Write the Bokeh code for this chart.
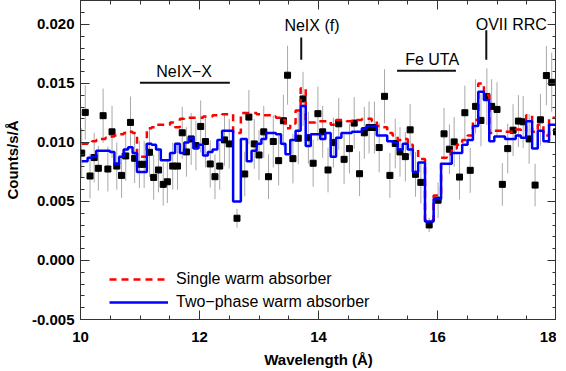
from bokeh.plotting import figure
from bokeh.models import (Range1d, FixedTicker, LinearAxis, PrintfTickFormatter,
                          Legend, LegendItem, ColumnDataSource)
from bokeh.core.properties import value
from bokeh.embed import file_html
from bokeh.resources import INLINE

# ---------------- data ----------------
WAVE = [10.02, 10.08, 10.16, 10.23, 10.30, 10.38, 10.46, 10.53, 10.61, 10.69,
        10.76, 10.84, 10.91, 10.99, 11.07, 11.16, 11.23, 11.31, 11.39, 11.46,
        11.55, 11.63, 11.71, 11.78, 11.86, 11.94, 12.02, 12.10, 12.18, 12.26,
        12.34, 12.42, 12.50, 12.63, 12.76, 12.83, 12.92, 13.00, 13.08, 13.16,
        13.24, 13.33, 13.41, 13.48, 13.57, 13.66, 13.74, 13.83, 13.91, 13.99,
        14.07, 14.16, 14.25, 14.34, 14.43, 14.52, 14.60, 14.69, 14.77, 14.85,
        14.94, 15.02, 15.11, 15.20, 15.29, 15.37, 15.46, 15.54, 15.63, 15.72,
        15.86, 16.01, 16.11, 16.20, 16.28, 16.37, 16.46, 16.55, 16.64, 16.73,
        16.83, 16.91, 17.00, 17.09, 17.18, 17.27, 17.36, 17.44, 17.54, 17.64,
        17.73, 17.83, 17.92, 18.00]

COUNTS = [0.0091, 0.01255, 0.00716, 0.00872, 0.00781, 0.01227, 0.00775, 0.0109, 0.0080, 0.00721,
          0.00886, 0.0117, 0.00866, 0.00815, 0.00815, 0.00917, 0.00704, 0.00767, 0.00645, 0.00667,
          0.0080, 0.0080, 0.01082, 0.0092, 0.0103, 0.00974, 0.01136, 0.01008, 0.00818, 0.0071,
          0.0080, 0.01022, 0.00988, 0.00358, 0.00733, 0.01215, 0.00988, 0.00894, 0.0109, 0.0071,
          0.01008, 0.00846, 0.01184, 0.0157, 0.00863, 0.01036, 0.01369, 0.0104, 0.00824, 0.01244,
          0.0109, 0.00767, 0.00999, 0.01158, 0.00857, 0.00948, 0.01164, 0.00735, 0.01082, 0.01127,
          0.01127, 0.00957, 0.01391, 0.00721, 0.00991, 0.0092, 0.0088, 0.01107, 0.0073, 0.00662,
          0.00301, 0.00511, 0.01073, 0.00943, 0.01005, 0.00707, 0.01252, 0.00764, 0.01306, 0.01187,
          0.01388, 0.01306, 0.0128, 0.00645, 0.00948, 0.01104, 0.01181, 0.01175, 0.0103, 0.00639,
          0.01192, 0.01567, 0.0151, 0.0109]

ERR = [0.0021, 0.0023, 0.0019, 0.0021, 0.0019, 0.0023, 0.0019, 0.0022, 0.0020, 0.0019,
       0.0021, 0.0022, 0.0021, 0.0020, 0.0020, 0.0021, 0.0019, 0.0019, 0.0018, 0.0018,
       0.0020, 0.0020, 0.0022, 0.0021, 0.0022, 0.0021, 0.0022, 0.0022, 0.0020, 0.0019,
       0.0020, 0.0022, 0.0021, 0.0008, 0.0019, 0.0023, 0.0021, 0.0021, 0.0022, 0.0019,
       0.0022, 0.0021, 0.0022, 0.0025, 0.0021, 0.0022, 0.0023, 0.0022, 0.0020, 0.0023,
       0.0022, 0.0019, 0.0021, 0.0022, 0.0021, 0.0021, 0.0022, 0.0019, 0.0022, 0.0022,
       0.0022, 0.0021, 0.0023, 0.0019, 0.0021, 0.0021, 0.0021, 0.0022, 0.0019, 0.0018,
       0.0006, 0.0015, 0.0022, 0.0021, 0.0021, 0.0019, 0.0023, 0.0019, 0.0023, 0.0022,
       0.0024, 0.0023, 0.0023, 0.0018, 0.0021, 0.0022, 0.0022, 0.0022, 0.0021, 0.0018,
       0.0022, 0.0025, 0.0025, 0.0022]
XERR = 0.04

TWO_PHASE = [0.0084, 0.0084, 0.0087, 0.0088, 0.0093, 0.0093, 0.0093, 0.0092, 0.0082, 0.0088,
             0.0094, 0.0096, 0.0091, 0.0075, 0.0075, 0.0099, 0.0098, 0.0094, 0.0085, 0.0085,
             0.0091, 0.0099, 0.0091, 0.0100, 0.0104, 0.0095, 0.0098, 0.0089, 0.0092, 0.0094,
             0.0102, 0.0110, 0.0110, 0.0050, 0.0103, 0.0084, 0.0093, 0.0099, 0.0103, 0.0108,
             0.0108, 0.0107, 0.0099, 0.0090, 0.0102, 0.0110, 0.0131, 0.0097, 0.0107, 0.0107,
             0.0103, 0.0108, 0.0088, 0.0104, 0.0108, 0.0108, 0.0109, 0.0109, 0.0112, 0.0114,
             0.0114, 0.0106, 0.0106, 0.0101, 0.0100, 0.0094, 0.0099, 0.0094, 0.0075, 0.0083,
             0.0033, 0.0052, 0.0082, 0.0082, 0.0091, 0.0091, 0.0098, 0.0102, 0.0114, 0.0143,
             0.0136, 0.0101, 0.0105, 0.0105, 0.0103, 0.0103, 0.0106, 0.0104, 0.0118, 0.0095,
             0.0110, 0.0101, 0.0115, 0.0115]

SINGLE = [0.0099, 0.0099, 0.0100, 0.0101, 0.0102, 0.0103, 0.0104, 0.0105, 0.0106, 0.0107,
          0.0108, 0.0109, 0.0108, 0.0088, 0.0088, 0.0112, 0.0113, 0.0115, 0.0115, 0.0115,
          0.0117, 0.0113, 0.0120, 0.0121, 0.0121, 0.0121, 0.0121, 0.0122, 0.0122, 0.0123,
          0.0123, 0.0124, 0.0124, 0.0108, 0.0125, 0.0125, 0.0125, 0.0124, 0.0123, 0.0123,
          0.0122, 0.0121, 0.0119, 0.0112, 0.0116, 0.0127, 0.0146, 0.0117, 0.0117, 0.0118,
          0.0118, 0.0118, 0.0115, 0.0119, 0.0119, 0.0118, 0.0118, 0.0119, 0.0120, 0.0120,
          0.0118, 0.0114, 0.0113, 0.0108, 0.0106, 0.0102, 0.0103, 0.0098, 0.0094, 0.0086,
          0.0034, 0.0055, 0.0087, 0.0090, 0.0095, 0.0098, 0.0102, 0.0106, 0.0119, 0.0150,
          0.0140, 0.0108, 0.0110, 0.0110, 0.0109, 0.0109, 0.0111, 0.0109, 0.0123, 0.0109,
          0.0115, 0.0106, 0.0121, 0.0121]

# line features
FEAT_TEXT = ["NeIX\u2212X", "NeIX (f)", "Fe UTA", "OVII RRC"]
FEAT_TX = [11.74, 13.89, 15.91, 17.24]
FEAT_TY = [0.0160, 0.0199, 0.0170, 0.0200]
BAR_X0 = [11.00, 13.71, 15.32, 16.82]
BAR_X1 = [12.51, 13.71, 16.31, 16.82]
BAR_Y0 = [0.01506, 0.0170, 0.01607, 0.0170]
BAR_Y1 = [0.01506, 0.0189, 0.01607, 0.0195]

X_TICKS = [10, 12, 14, 16, 18]
Y_TICKS = [-0.005, 0.000, 0.005, 0.010, 0.015, 0.020]
X_MINOR = [10 + 0.5 * i for i in range(17)]
Y_MINOR = [-0.005 + 0.001 * i for i in range(28)]

FONT = "Liberation Sans"
AXC = "#333333"

# ---------------- figure ----------------
p = figure(frame_width=476, frame_height=319, output_backend="svg", toolbar_location=None,
           x_range=Range1d(10, 18), y_range=Range1d(-0.005, 0.02203),
           min_border_left=80, min_border_right=0, min_border_top=0, min_border_bottom=52,
           background_fill_color="white", border_fill_color="white")
p.xgrid.visible = False
p.ygrid.visible = False
p.outline_line_color = AXC
p.outline_line_width = 1


def style_axis(ax, ticks, minor, show_labels=True):
    ax.ticker = FixedTicker(ticks=ticks, minor_ticks=minor)
    ax.axis_line_color = AXC
    ax.major_tick_line_color = AXC
    ax.minor_tick_line_color = AXC
    ax.major_tick_in = 9
    ax.major_tick_out = 0
    ax.minor_tick_in = 4
    ax.minor_tick_out = 0
    ax.major_label_text_font = FONT
    ax.major_label_text_font_style = "bold"
    ax.major_label_text_font_size = "15px" if show_labels else "0px"
    ax.major_label_text_color = "black"
    ax.axis_label_text_font = FONT
    ax.axis_label_text_font_style = "bold"
    ax.axis_label_text_font_size = "15px"
    ax.axis_label_text_color = "black"
    if not show_labels:
        ax.major_label_overrides = {t: "" for t in ticks}
        ax.major_label_standoff = 0
        ax.axis_label_standoff = 0


xa = p.xaxis[0]
style_axis(xa, X_TICKS, X_MINOR)
xa.axis_label = "Wavelength (\u00c5)"
xa.major_label_standoff = 12
xa.axis_label_standoff = 6

ya = p.yaxis[0]
style_axis(ya, Y_TICKS, Y_MINOR)
ya.formatter = PrintfTickFormatter(format="%.3f")
ya.axis_label = "Counts/s/\u00c5"
ya.major_label_standoff = 6
ya.axis_label_standoff = 8

top = LinearAxis()
style_axis(top, X_TICKS, X_MINOR, show_labels=False)
p.add_layout(top, "above")

right = LinearAxis()
style_axis(right, Y_TICKS, Y_MINOR, show_labels=False)
p.add_layout(right, "right")

# ---------------- data points ----------------
src = ColumnDataSource(dict(
    x=WAVE, y=COUNTS,
    lo=[c - e for c, e in zip(COUNTS, ERR)],
    hi=[c + e for c, e in zip(COUNTS, ERR)],
    xl=[w - XERR for w in WAVE],
    xr=[w + XERR for w in WAVE],
))
p.segment(x0="x", y0="lo", x1="x", y1="hi", source=src, line_color="#a8a8a8", line_width=1)
p.segment(x0="xl", y0="y", x1="xr", y1="y", source=src, line_color="#a8a8a8", line_width=1)
p.scatter(x="x", y="y", source=src, marker="square", size=6,
          fill_color="black", line_color="black")

# ---------------- models ----------------
red = p.step(x=WAVE, y=SINGLE, mode="center", line_color="#ff0000",
             line_width=2.5, line_dash="7 5")
blue = p.step(x=WAVE, y=TWO_PHASE, mode="center", line_color="#0000ff", line_width=2.5)

# ---------------- feature annotations ----------------
p.segment(x0=BAR_X0, y0=BAR_Y0, x1=BAR_X1, y1=BAR_Y1, line_color="#111111", line_width=2)
p.text(x=FEAT_TX, y=FEAT_TY, text=FEAT_TEXT, text_align="center", text_baseline="alphabetic",
       text_font=value(FONT), text_font_size="16px", text_color="black")

# ---------------- legend ----------------
legend = Legend(items=[LegendItem(label="Single warm absorber", renderers=[red]),
                       LegendItem(label="Two\u2212phase warm absorber", renderers=[blue])],
                location=(29, 7), glyph_width=59, glyph_height=20, label_height=20,
                spacing=3, padding=0, margin=0, border_line_color=None,
                background_fill_alpha=0, label_standoff=8,
                label_text_font=FONT, label_text_font_size="16px", label_text_color="black")
p.add_layout(legend)

open("out.html", "w").write(file_html(p, INLINE))
